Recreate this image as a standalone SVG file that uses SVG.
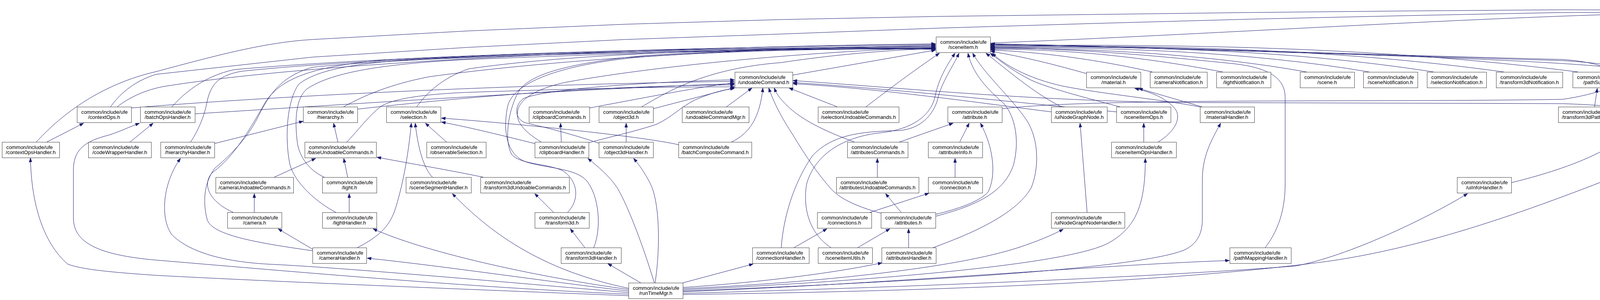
<svg xmlns="http://www.w3.org/2000/svg" width="4749" height="767" viewBox="0 0 4749 767">
<style>
.n rect{fill:#ffffff;stroke:#404040;stroke-width:1}
.n.root rect{fill:#bfbfbf;stroke:#000000}
.n text{font-family:"Liberation Sans",Arial,Helvetica,sans-serif;font-size:13.3px;fill:#000000}
.n text.c{text-anchor:middle}
#edges path{fill:none;stroke:#191970;stroke-width:1;marker-end:url(#arr)}
</style>
<defs>
<marker id="arr" markerWidth="11" markerHeight="8" refX="10.5" refY="4" orient="auto" markerUnits="userSpaceOnUse"><path d="M0,0 L11,4 L0,8 z" fill="#191970" stroke="#191970" stroke-width="0.5"/></marker>
</defs>
<rect x="0" y="0" width="4749" height="767" fill="#ffffff"/>
<g id="edges">
<path d="M2535,110 C3100,88 3800,42 4284,33"/>
<path d="M93,363 C160,290 260,215 400,183 C560,140 680,108 800,101 L1200,79 L1600,62 L2000,50 L2400,42 L2800,37 L3200,32 L3600,28 L4000,25 L4283,26"/>
<path d="M283,273 C310,235 350,205 400,190 L800,146 L1200,121 L1600,101 L2000,87 L2400,72 L2800,60 L3200,49 L3600,40 L4000,32 L4283,31"/>
<path d="M2565,278 C2800,250 3500,262 4000,254 C4180,228 4270,150 4337,45"/>
<path d="M4477,94 L4399,45"/>
<path d="M4605,94 L4425,45"/>
<path d="M4365,273 C4382,200 4382,110 4366,45"/>
<path d="M4380,273 C4420,245 4465,190 4490,135"/>
<path d="M2029,192 L2395,128"/>
<path d="M2781,188 C2700,165 2620,145 2536,131"/>
<path d="M2950,184 C2800,150 2650,132 2536,128"/>
<path d="M3130,184 C2900,140 2700,125 2536,126"/>
<path d="M3345,184 C3100,140 2800,122 2536,124"/>
<path d="M3505,184 C3200,132 2850,120 2536,122"/>
<path d="M3670,184 C3300,126 2900,118 2536,120"/>
<path d="M3850,184 C3400,122 2950,116 2536,118"/>
<path d="M4040,184 C3500,116 3000,114 2536,116"/>
<path d="M4350,273 C4300,215 4250,170 4000,155 C3500,140 2900,120 2536,114"/>
<path d="M4300,363 C4270,310 4262,230 4225,190 C4180,160 3600,140 2536,113"/>
<path d="M3869,467 C3960,445 4195,380 4200,280 C4205,200 4120,160 4000,152 C3500,140 2900,118 2536,112"/>
<path d="M3075,274 C2980,255 2820,240 2720,220 C2630,200 2570,165 2540,136"/>
<path d="M3080,274 L2915,226"/>
<path d="M2870,274 C2800,255 2690,228 2640,205 C2590,180 2560,155 2535,136"/>
<path d="M2858,286 C2600,262 2300,228 2030,211"/>
<path d="M2928,363 L2928,315"/>
<path d="M2965,363 C3010,335 3025,300 3008,278 C2985,250 2945,235 2905,226"/>
<path d="M3239,633 C3280,580 3290,520 3290,470 L3290,250 C3290,200 3250,172 3150,162 C3000,147 2800,126 2536,121"/>
<path d="M2717,273 C2650,240 2580,180 2524,136"/>
<path d="M2691,286 C2500,262 2250,226 2030,214"/>
<path d="M2783,543 L2765,315"/>
<path d="M4291,286 C4200,278 4100,268 4000,265 L3000,262 C2600,255 2300,224 2030,206"/>
<path d="M4320,363 L4345,315"/>
<path d="M4082,273 L4089,226"/>
<path d="M120,363 L214,315"/>
<path d="M300,273 C330,250 370,230 420,221 C800,160 1600,122 2395,112"/>
<path d="M336,276 C700,246 1300,216 1880,208"/>
<path d="M333,363 L392,315"/>
<path d="M440,273 C470,240 520,195 600,178 C1000,142 1800,120 2395,114"/>
<path d="M499,291 C900,266 1500,226 1880,214"/>
<path d="M880,273 C930,245 1000,215 1100,196 C1500,142 2000,123 2395,116"/>
<path d="M915,279 C1300,236 1600,219 1880,217"/>
<path d="M549,367 L776,310"/>
<path d="M488,363 C510,330 525,290 530,260 C540,215 560,192 620,182 C1000,142 1800,122 2395,118"/>
<path d="M865,363 L854,315"/>
<path d="M888,363 C915,335 945,295 975,272 C1010,250 1100,240 1200,236 C1500,226 1700,222 1880,222"/>
<path d="M1067,273 C1090,240 1130,200 1200,176 C1500,132 2000,122 2395,120"/>
<path d="M1143,363 L1089,315"/>
<path d="M702,453 L808,405"/>
<path d="M890,453 L880,405"/>
<path d="M1237,453 C1150,435 1050,418 965,402"/>
<path d="M830,453 C800,440 770,410 762,370 C752,300 760,250 785,228 C850,182 1000,162 1200,152 C1600,136 2000,124 2395,124"/>
<path d="M894,543 L894,495"/>
<path d="M860,543 C815,520 755,470 742,420 C728,350 735,255 765,215 C810,180 900,160 1100,150 C1500,136 2000,122 2395,126"/>
<path d="M651,543 L651,495"/>
<path d="M597,543 C535,515 515,470 545,440 C600,400 640,330 680,260 C720,200 800,168 1000,152 C1500,130 2000,121 2395,122"/>
<path d="M800,637 L712,585"/>
<path d="M915,633 C970,605 995,580 1010,540 C1030,480 1045,400 1053,315"/>
<path d="M800,641 C650,620 540,600 530,560 C520,520 520,470 550,430 C580,405 630,360 660,300 C690,240 720,195 800,172 C1100,140 2000,122 2395,124"/>
<path d="M1107,453 C1085,430 1070,380 1063,315"/>
<path d="M1509,276 C1650,250 1800,220 1880,212"/>
<path d="M1437,363 L1435,315"/>
<path d="M1369,367 C1300,350 1200,325 1130,312"/>
<path d="M1385,363 C1340,335 1320,310 1325,285 C1330,250 1380,225 1450,210 C1700,165 2100,130 2395,122"/>
<path d="M1507,365 C1560,350 1620,338 1680,318 C1720,300 1740,275 1780,255 C1820,238 1850,230 1880,226"/>
<path d="M1643,273 C1700,240 1800,175 2000,160 C2150,137 2300,127 2395,124"/>
<path d="M1672,278 L1880,224"/>
<path d="M1603,363 L1603,315"/>
<path d="M1533,366 C1450,338 1380,322 1345,314 C1318,305 1315,270 1340,252 C1400,225 1700,208 1880,204"/>
<path d="M1860,273 L1925,225"/>
<path d="M1873,363 C1920,340 1945,300 1953,225"/>
<path d="M1737,370 C1650,350 1350,318 1130,302"/>
<path d="M2143,273 L2020,225"/>
<path d="M2217,273 C2280,225 2340,180 2405,136"/>
<path d="M2187,363 C2110,335 2050,305 2015,270 C2000,255 1990,245 1982,225"/>
<path d="M2303,363 L2440,315"/>
<path d="M2246,453 L2246,405"/>
<path d="M2457,363 L2481,315"/>
<path d="M2445,453 L2445,405"/>
<path d="M2227,543 L2378,494"/>
<path d="M2033,633 L2117,585"/>
<path d="M2000,633 C2005,560 2030,470 2080,398 C2130,345 2200,336 2300,334 C2360,330 2390,290 2400,255 C2410,210 2440,170 2455,136"/>
<path d="M2196,633 L2278,585"/>
<path d="M2127,633 C2070,595 2055,530 2065,470 C2085,400 2150,352 2250,340 C2330,332 2380,300 2393,250 C2403,200 2425,165 2445,136"/>
<path d="M2307,543 L2267,495"/>
<path d="M2395,548 C2450,535 2510,515 2530,490 C2550,450 2545,380 2510,315"/>
<path d="M2255,545 C2200,530 2150,510 2125,480 C2090,440 2060,395 2030,345 C2000,300 1980,260 1968,225"/>
<path d="M2326,633 L2326,585"/>
<path d="M2389,633 C2480,600 2600,550 2640,480 C2660,430 2660,360 2630,310 C2590,250 2520,190 2490,136"/>
<path d="M2395,553 C2480,530 2570,500 2595,420 C2610,360 2600,300 2570,265 C2530,230 2490,190 2478,136"/>
<path d="M1417,543 L1369,495"/>
<path d="M1453,543 C1485,510 1480,462 1440,436 C1400,418 1330,420 1310,395 C1290,360 1300,280 1330,230 C1360,190 1450,162 1650,142 C1900,126 2200,122 2395,124"/>
<path d="M1497,633 L1460,585"/>
<path d="M1520,633 C1540,585 1535,500 1500,460 C1470,430 1400,430 1350,415 C1300,400 1285,340 1300,270 C1315,215 1420,165 1650,145 C1900,128 2200,123 2395,126"/>
<path d="M1609,756 C1200,740 700,720 400,704 C300,697 210,690 173,675 C110,620 80,520 78,404"/>
<path d="M1609,752 C1200,735 700,690 400,665 C250,652 190,620 188,560 L188,430 C190,380 220,360 280,345 C310,335 330,325 357,315"/>
<path d="M1609,748 C1300,722 900,686 700,676 C560,670 480,640 440,600 C410,560 415,470 462,405"/>
<path d="M1609,744 C1400,720 1150,682 940,660"/>
<path d="M1609,740 C1400,712 1100,650 955,585"/>
<path d="M1609,737 C1380,690 1250,590 1158,495"/>
<path d="M1640,723 L1556,674"/>
<path d="M1675,723 C1650,640 1610,530 1580,480 C1560,450 1530,425 1505,405"/>
<path d="M1677,723 C1690,640 1690,520 1665,470 C1650,440 1635,420 1622,405"/>
<path d="M1745,724 L1928,675"/>
<path d="M1748,735 C1900,725 2100,705 2258,672"/>
<path d="M1748,738 C2100,722 2450,685 2610,632 C2655,617 2692,602 2722,586"/>
<path d="M1748,741 C2300,715 2750,672 2840,620 C2910,580 2932,520 2932,405"/>
<path d="M1748,744 C2300,722 2900,690 3030,640 C3070,622 3078,590 3078,560 L3078,460 C3078,400 3100,360 3125,315"/>
<path d="M1748,746 C2300,724 2800,678 3147,666"/>
<path d="M1748,750 C2400,732 3000,705 3317,680 C3450,655 3650,560 3757,495"/>
<path d="M1748,753 C2600,742 3100,708 3400,668 C3700,625 4000,505 4253,405"/>
</g>
<g id="node-value" class="n root"><rect x="4284.5" y="4.5" width="140" height="40"/><text x="4295" y="21.5">common/include/ufe</text><text class="c" x="4354" y="34.5">/value.h</text></g>
<g id="node-sceneItem" class="n"><rect x="2396.5" y="94.5" width="139" height="40"/><text x="2407" y="111.5">common/include/ufe</text><text class="c" x="2465.5" y="124.5">/sceneItem.h</text></g>
<g id="node-attributeDef" class="n"><rect x="4442.5" y="94.5" width="139" height="40"/><text x="4453" y="111.5">common/include/ufe</text><text class="c" x="4511.5" y="124.5">/attributeDef.h</text></g>
<g id="node-ufeExcept" class="n"><rect x="4605.5" y="94.5" width="139" height="40"/><text x="4616" y="111.5">common/include/ufe</text><text class="c" x="4674.5" y="124.5">/ufeExcept.h</text></g>
<g id="node-undoableCommand" class="n"><rect x="1881.5" y="184.5" width="148" height="40"/><text x="1892" y="201.5">common/include/ufe</text><text class="c" x="1955" y="214.5">/undoableCommand.h</text></g>
<g id="node-material" class="n"><rect x="2781.5" y="184.5" width="139" height="40"/><text x="2792" y="201.5">common/include/ufe</text><text class="c" x="2850.5" y="214.5">/material.h</text></g>
<g id="node-cameraNotification" class="n"><rect x="2944.5" y="184.5" width="146" height="40"/><text x="2955" y="201.5">common/include/ufe</text><text class="c" x="3017" y="214.5">/cameraNotification.h</text></g>
<g id="node-lightNotification" class="n"><rect x="3114.5" y="184.5" width="139" height="40"/><text x="3125" y="201.5">common/include/ufe</text><text class="c" x="3183.5" y="214.5">/lightNotification.h</text></g>
<g id="node-scene" class="n"><rect x="3328.5" y="184.5" width="139" height="40"/><text x="3339" y="201.5">common/include/ufe</text><text class="c" x="3397.5" y="214.5">/scene.h</text></g>
<g id="node-sceneNotification" class="n"><rect x="3490.5" y="184.5" width="139" height="40"/><text x="3501" y="201.5">common/include/ufe</text><text class="c" x="3559.5" y="214.5">/sceneNotification.h</text></g>
<g id="node-selectionNotification" class="n"><rect x="3653.5" y="184.5" width="152" height="40"/><text x="3664" y="201.5">common/include/ufe</text><text class="c" x="3729" y="214.5">/selectionNotification.h</text></g>
<g id="node-transform3dNotification" class="n"><rect x="3830.5" y="184.5" width="170" height="40"/><text x="3841" y="201.5">common/include/ufe</text><text class="c" x="3915" y="214.5">/transform3dNotification.h</text></g>
<g id="node-pathSubject" class="n"><rect x="4026.5" y="184.5" width="139" height="40"/><text x="4037" y="201.5">common/include/ufe</text><text class="c" x="4095.5" y="214.5">/pathSubject.h</text></g>
<g id="node-contextOps" class="n"><rect x="197.5" y="273.5" width="139" height="40"/><text x="208" y="290.5">common/include/ufe</text><text class="c" x="266.5" y="303.5">/contextOps.h</text></g>
<g id="node-batchOpsHandler" class="n"><rect x="359.5" y="273.5" width="140" height="40"/><text x="370" y="290.5">common/include/ufe</text><text class="c" x="429" y="303.5">/batchOpsHandler.h</text></g>
<g id="node-hierarchy" class="n"><rect x="776.5" y="273.5" width="139" height="40"/><text x="787" y="290.5">common/include/ufe</text><text class="c" x="845.5" y="303.5">/hierarchy.h</text></g>
<g id="node-selection" class="n"><rect x="989.5" y="273.5" width="139" height="40"/><text x="1000" y="290.5">common/include/ufe</text><text class="c" x="1058.5" y="303.5">/selection.h</text></g>
<g id="node-clipboardCommands" class="n"><rect x="1354.5" y="273.5" width="155" height="40"/><text x="1365" y="290.5">common/include/ufe</text><text class="c" x="1431.5" y="303.5">/clipboardCommands.h</text></g>
<g id="node-object3d" class="n"><rect x="1533.5" y="273.5" width="139" height="40"/><text x="1544" y="290.5">common/include/ufe</text><text class="c" x="1602.5" y="303.5">/object3d.h</text></g>
<g id="node-undoableCommandMgr" class="n"><rect x="1746.5" y="273.5" width="171" height="40"/><text x="1757" y="290.5">common/include/ufe</text><text class="c" x="1831.5" y="303.5">/undoableCommandMgr.h</text></g>
<g id="node-selectionUndoableCommands" class="n"><rect x="2094.5" y="273.5" width="207" height="40"/><text x="2105" y="290.5">common/include/ufe</text><text class="c" x="2197.5" y="303.5">/selectionUndoableCommands.h</text></g>
<g id="node-attribute" class="n"><rect x="2426.5" y="273.5" width="139" height="40"/><text x="2437" y="290.5">common/include/ufe</text><text class="c" x="2495.5" y="303.5">/attribute.h</text></g>
<g id="node-uiNodeGraphNode" class="n"><rect x="2691.5" y="273.5" width="143" height="40"/><text x="2702" y="290.5">common/include/ufe</text><text class="c" x="2762.5" y="303.5">/uiNodeGraphNode.h</text></g>
<g id="node-sceneItemOps" class="n"><rect x="2858.5" y="273.5" width="139" height="40"/><text x="2869" y="290.5">common/include/ufe</text><text class="c" x="2927.5" y="303.5">/sceneItemOps.h</text></g>
<g id="node-materialHandler" class="n"><rect x="3072.5" y="273.5" width="139" height="40"/><text x="3083" y="290.5">common/include/ufe</text><text class="c" x="3141.5" y="303.5">/materialHandler.h</text></g>
<g id="node-transform3dPathSubject" class="n"><rect x="3989.5" y="273.5" width="176" height="40"/><text x="4000" y="290.5">common/include/ufe</text><text class="c" x="4077" y="303.5">/transform3dPathSubject.h</text></g>
<g id="node-nodeDef" class="n"><rect x="4291.5" y="273.5" width="138" height="40"/><text x="4302" y="290.5">common/include/ufe</text><text class="c" x="4360" y="303.5">/nodeDef.h</text></g>
<g id="node-contextOpsHandler" class="n"><rect x="5.5" y="363.5" width="147" height="40"/><text x="16" y="380.5">common/include/ufe</text><text class="c" x="78.5" y="393.5">/contextOpsHandler.h</text></g>
<g id="node-codeWrapperHandler" class="n"><rect x="226.5" y="363.5" width="161" height="40"/><text x="237" y="380.5">common/include/ufe</text><text class="c" x="306.5" y="393.5">/codeWrapperHandler.h</text></g>
<g id="node-hierarchyHandler" class="n"><rect x="411.5" y="363.5" width="138" height="40"/><text x="422" y="380.5">common/include/ufe</text><text class="c" x="480" y="393.5">/hierarchyHandler.h</text></g>
<g id="node-baseUndoableCommands" class="n"><rect x="780.5" y="363.5" width="183" height="40"/><text x="791" y="380.5">common/include/ufe</text><text class="c" x="871.5" y="393.5">/baseUndoableCommands.h</text></g>
<g id="node-observableSelection" class="n"><rect x="1092.5" y="363.5" width="152" height="40"/><text x="1103" y="380.5">common/include/ufe</text><text class="c" x="1168" y="393.5">/observableSelection.h</text></g>
<g id="node-clipboardHandler" class="n"><rect x="1369.5" y="363.5" width="138" height="40"/><text x="1380" y="380.5">common/include/ufe</text><text class="c" x="1438" y="393.5">/clipboardHandler.h</text></g>
<g id="node-object3dHandler" class="n"><rect x="1533.5" y="363.5" width="139" height="40"/><text x="1544" y="380.5">common/include/ufe</text><text class="c" x="1602.5" y="393.5">/object3dHandler.h</text></g>
<g id="node-batchCompositeCommand" class="n"><rect x="1737.5" y="363.5" width="187" height="40"/><text x="1748" y="380.5">common/include/ufe</text><text class="c" x="1830.5" y="393.5">/batchCompositeCommand.h</text></g>
<g id="node-attributesCommands" class="n"><rect x="2169.5" y="363.5" width="155" height="40"/><text x="2180" y="380.5">common/include/ufe</text><text class="c" x="2246.5" y="393.5">/attributesCommands.h</text></g>
<g id="node-attributeInfo" class="n"><rect x="2376.5" y="363.5" width="139" height="40"/><text x="2387" y="380.5">common/include/ufe</text><text class="c" x="2445.5" y="393.5">/attributeInfo.h</text></g>
<g id="node-sceneItemOpsHandler" class="n"><rect x="2845.5" y="363.5" width="166" height="40"/><text x="2856" y="380.5">common/include/ufe</text><text class="c" x="2928" y="393.5">/sceneItemOpsHandler.h</text></g>
<g id="node-nodeDefHandler" class="n"><rect x="4239.5" y="363.5" width="140" height="40"/><text x="4250" y="380.5">common/include/ufe</text><text class="c" x="4309" y="393.5">/nodeDefHandler.h</text></g>
<g id="node-cameraUndoableCommands" class="n"><rect x="552.5" y="453.5" width="199" height="40"/><text x="563" y="470.5">common/include/ufe</text><text class="c" x="651.5" y="483.5">/cameraUndoableCommands.h</text></g>
<g id="node-light" class="n"><rect x="825.5" y="453.5" width="139" height="40"/><text x="836" y="470.5">common/include/ufe</text><text class="c" x="894.5" y="483.5">/light.h</text></g>
<g id="node-sceneSegmentHandler" class="n"><rect x="1039.5" y="453.5" width="167" height="40"/><text x="1050" y="470.5">common/include/ufe</text><text class="c" x="1122.5" y="483.5">/sceneSegmentHandler.h</text></g>
<g id="node-transform3dUndoableCommands" class="n"><rect x="1230.5" y="453.5" width="227" height="40"/><text x="1241" y="470.5">common/include/ufe</text><text class="c" x="1343.5" y="483.5">/transform3dUndoableCommands.h</text></g>
<g id="node-attributesUndoableCommands" class="n"><rect x="2141.5" y="453.5" width="211" height="40"/><text x="2152" y="470.5">common/include/ufe</text><text class="c" x="2246.5" y="483.5">/attributesUndoableCommands.h</text></g>
<g id="node-connection" class="n"><rect x="2376.5" y="453.5" width="139" height="40"/><text x="2387" y="470.5">common/include/ufe</text><text class="c" x="2445.5" y="483.5">/connection.h</text></g>
<g id="node-uiInfoHandler" class="n"><rect x="3730.5" y="453.5" width="139" height="40"/><text x="3741" y="470.5">common/include/ufe</text><text class="c" x="3799.5" y="483.5">/uiInfoHandler.h</text></g>
<g id="node-camera" class="n"><rect x="582.5" y="543.5" width="139" height="40"/><text x="593" y="560.5">common/include/ufe</text><text class="c" x="651.5" y="573.5">/camera.h</text></g>
<g id="node-lightHandler" class="n"><rect x="825.5" y="543.5" width="139" height="40"/><text x="836" y="560.5">common/include/ufe</text><text class="c" x="894.5" y="573.5">/lightHandler.h</text></g>
<g id="node-transform3d" class="n"><rect x="1369.5" y="543.5" width="139" height="40"/><text x="1380" y="560.5">common/include/ufe</text><text class="c" x="1438.5" y="573.5">/transform3d.h</text></g>
<g id="node-connections" class="n"><rect x="2092.5" y="543.5" width="139" height="40"/><text x="2103" y="560.5">common/include/ufe</text><text class="c" x="2161.5" y="573.5">/connections.h</text></g>
<g id="node-attributes" class="n"><rect x="2255.5" y="543.5" width="140" height="40"/><text x="2266" y="560.5">common/include/ufe</text><text class="c" x="2325" y="573.5">/attributes.h</text></g>
<g id="node-uiNodeGraphNodeHandler" class="n"><rect x="2691.5" y="543.5" width="188" height="40"/><text x="2702" y="560.5">common/include/ufe</text><text class="c" x="2785" y="573.5">/uiNodeGraphNodeHandler.h</text></g>
<g id="node-cameraHandler" class="n"><rect x="800.5" y="633.5" width="138" height="40"/><text x="811" y="650.5">common/include/ufe</text><text class="c" x="869" y="663.5">/cameraHandler.h</text></g>
<g id="node-transform3dHandler" class="n"><rect x="1436.5" y="633.5" width="154" height="40"/><text x="1447" y="650.5">common/include/ufe</text><text class="c" x="1513" y="663.5">/transform3dHandler.h</text></g>
<g id="node-connectionHandler" class="n"><rect x="1926.5" y="633.5" width="145" height="40"/><text x="1937" y="650.5">common/include/ufe</text><text class="c" x="1998.5" y="663.5">/connectionHandler.h</text></g>
<g id="node-sceneItemUtils" class="n"><rect x="2094.5" y="633.5" width="139" height="40"/><text x="2105" y="650.5">common/include/ufe</text><text class="c" x="2163.5" y="663.5">/sceneItemUtils.h</text></g>
<g id="node-attributesHandler" class="n"><rect x="2257.5" y="633.5" width="139" height="40"/><text x="2268" y="650.5">common/include/ufe</text><text class="c" x="2326.5" y="663.5">/attributesHandler.h</text></g>
<g id="node-pathMappingHandler" class="n"><rect x="3148.5" y="633.5" width="157" height="40"/><text x="3159" y="650.5">common/include/ufe</text><text class="c" x="3226.5" y="663.5">/pathMappingHandler.h</text></g>
<g id="node-runTimeMgr" class="n"><rect x="1609.5" y="723.5" width="139" height="40"/><text x="1620" y="740.5">common/include/ufe</text><text class="c" x="1678.5" y="753.5">/runTimeMgr.h</text></g>
</svg>
